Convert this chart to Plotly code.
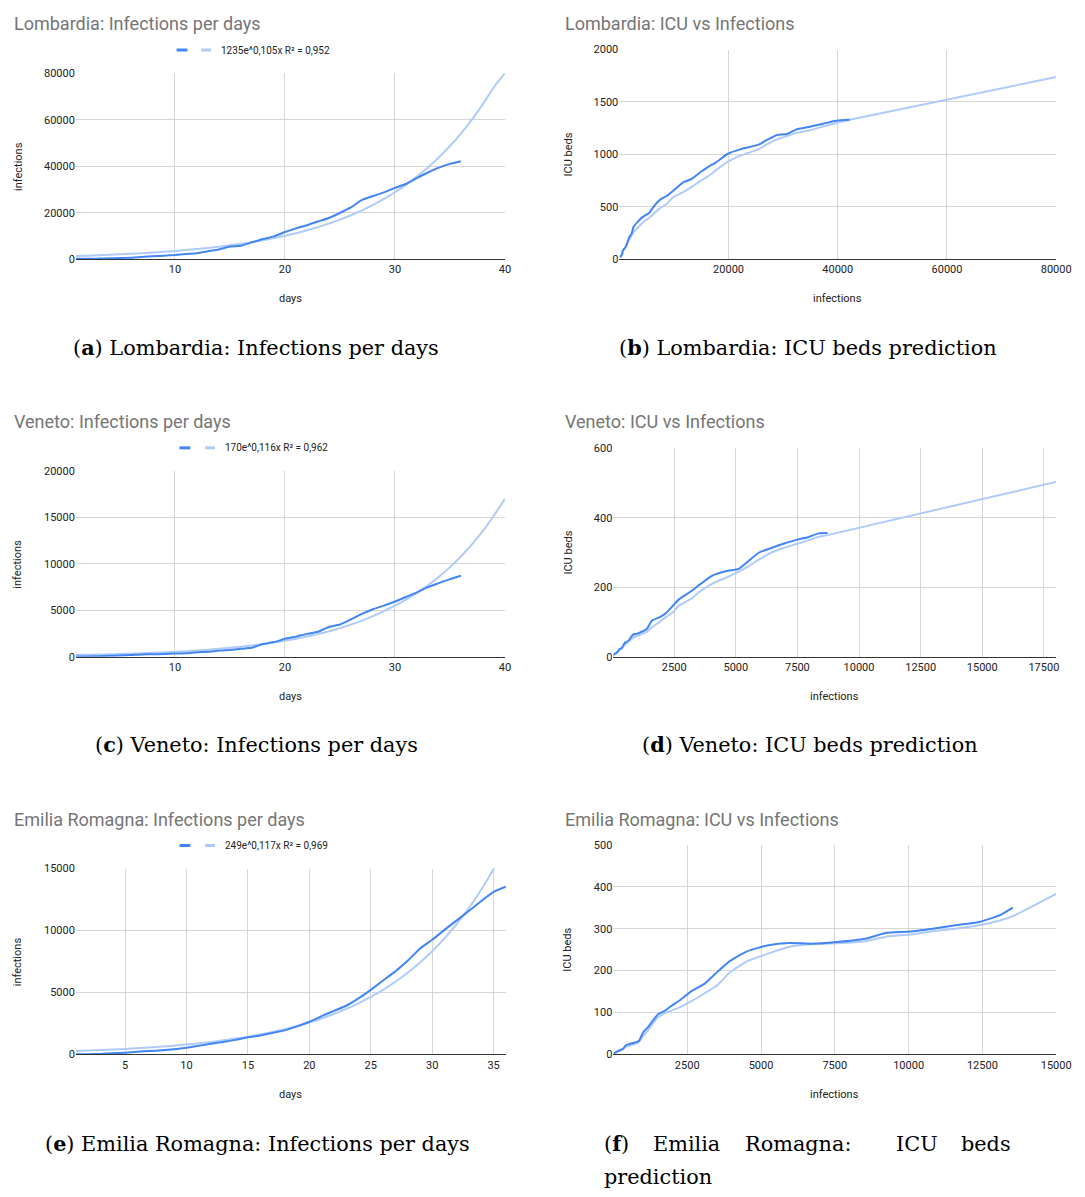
import plotly.graph_objects as go

# ---------------- data ----------------
days = list(range(1, 37))
trend_days = list(range(1, 41))
trend_days_er = list(range(1, 37))

lom_infections = [172, 240, 258, 403, 531, 615, 984, 1254, 1520, 1820, 2251, 2612, 3420, 4189, 5469, 5791,
                  7280, 8725, 9820, 11685, 13272, 14649, 16220, 17713, 19884, 22264, 25515, 27206, 28761,
                  30703, 32346, 34889, 37298, 39415, 41007, 42161]
lom_trend = [1372, 1523, 1692, 1879, 2087, 2318, 2575, 2860, 3176, 3528, 3918, 4352, 4834, 5369, 5963, 6623,
             7356, 8171, 9075, 10080, 11196, 12435, 13812, 15341, 17039, 18925, 21020, 23347, 25932, 28802,
             31991, 35532, 39466, 43835, 48687, 54077, 60064, 66713, 74098, 80000]
lom_icu = [19, 25, 25, 41, 47, 80, 106, 127, 167, 209, 244, 309, 359, 399, 440, 466, 560, 605, 650, 732, 767,
           823, 879, 924, 1006, 1050, 1093, 1142, 1183, 1194, 1236, 1263, 1292, 1319, 1328, 1330]
lom_pred_x = lom_infections + [80000]
lom_pred_icu = [15, 22, 24, 38, 55, 70, 100, 122, 155, 190, 225, 260, 300, 345, 395, 410, 480, 530, 590, 640,
                690, 740, 790, 850, 930, 990, 1050, 1100, 1140, 1175, 1205, 1230, 1265, 1295, 1315, 1330, 1738]
lom_label = "1235e^0,105x R² = 0,952"

ven_infections = [33, 43, 71, 111, 151, 191, 263, 273, 307, 360, 380, 488, 543, 670, 744, 861, 977, 1384, 1595,
                  1937, 2172, 2473, 2704, 3214, 3484, 4031, 4617, 5122, 5505, 5948, 6442, 6935, 7497, 7930,
                  8358, 8724]
ven_trend = [191, 214, 241, 270, 304, 341, 383, 430, 483, 543, 609, 684, 769, 863, 969, 1089, 1223, 1373, 1542,
             1732, 1945, 2184, 2453, 2754, 3093, 3474, 3901, 4381, 4920, 5500, 6150, 6880, 7700, 8620, 9650,
             10800, 12100, 13550, 15200, 17000]
ven_icu = [4, 6, 8, 10, 11, 14, 20, 22, 23, 25, 26, 40, 42, 48, 57, 65, 66, 80, 104, 115, 126, 149, 166, 190,
           205, 233, 247, 253, 275, 300, 313, 325, 337, 344, 355, 356]
ven_pred_x = ven_infections + [18000]
ven_pred_icu = [3, 5, 7, 9, 10, 13, 17, 19, 21, 23, 24, 34, 38, 45, 50, 56, 60, 72, 85, 102, 115, 130, 148, 168,
                185, 210, 228, 245, 260, 280, 300, 313, 325, 335, 345, 350, 503]
ven_label = "170e^0,116x R² = 0,962"

er_infections = [18, 26, 47, 97, 145, 217, 285, 335, 420, 544, 698, 870, 1010, 1180, 1386, 1530, 1739, 1947,
                 2263, 2644, 3093, 3522, 3931, 4525, 5214, 5968, 6705, 7555, 8535, 9254, 10054, 10816, 11588,
                 12383, 13119, 13531]
er_trend = [280, 315, 354, 398, 447, 503, 565, 635, 714, 803, 902, 1014, 1140, 1282, 1441, 1620, 1821, 2047,
            2301, 2586, 2907, 3268, 3673, 4129, 4642, 5218, 5865, 6593, 7412, 8331, 9365, 10528, 11834, 13303,
            14954, 16810]
er_icu = [2, 3, 4, 6, 8, 10, 12, 14, 22, 25, 28, 33, 53, 66, 85, 97, 104, 115, 130, 151, 169, 197, 222, 246,
          260, 266, 264, 268, 276, 290, 293, 300, 308, 316, 333, 350]
er_pred_x = er_infections + [15000]
er_pred_icu = [1, 2, 3, 5, 7, 9, 11, 13, 18, 21, 24, 30, 45, 58, 78, 90, 98, 104, 113, 127, 146, 165, 195, 222,
               240, 257, 263, 265, 270, 281, 286, 294, 300, 308, 320, 330, 383]
er_label = "249e^0,117x R² = 0,969"

# ---------------- layout helpers ----------------
W, H = 1085, 1197
def fx(x):
    return x / W
def fy(y):
    return 1 - y / H

DARK = "#4285f4"
LIGHT = "#aecbfa"
GRID = "#d6d6d6"
FONT = "Roboto, Arial, sans-serif"
SERIF = "DejaVu Serif, Liberation Serif, serif"
CAP_SIZE = 20.8

fig = go.Figure()

panels = [
    dict(title="Lombardia: Infections per days", box=(77, 512, 68, 256), xr=[1, 40], xt=[10, 20, 30, 40],
         yr=[0, 80000], yt=[0, 20000, 40000, 60000, 80000], xlab="days", ylab="infections",
         dark=(days, lom_infections), light=(trend_days, lom_trend), legend=lom_label, tx=12, ty=18,
         leg=(179, 190, 204, 214, 222, 44.5),
         caption=("a", "Lombardia: Infections per days"), cap=(260, 345), left=True),
    dict(title="Lombardia: ICU vs Infections", box=(628, 1071, 44, 256), xr=[0, 80000],
         xt=[20000, 40000, 60000, 80000], yr=[0, 2000], yt=[0, 500, 1000, 1500, 2000], xlab="infections",
         ylab="ICU beds", dark=(lom_infections, lom_icu), light=(lom_pred_x, lom_pred_icu), legend=None,
         tx=571, ty=18, leg=None, caption=("b", "Lombardia: ICU beds prediction"), cap=(819, 345), left=False),
    dict(title="Veneto: Infections per days", box=(77, 512, 470, 658), xr=[1, 40], xt=[10, 20, 30, 40],
         yr=[0, 20000], yt=[0, 5000, 10000, 15000, 20000], xlab="days", ylab="infections",
         dark=(days, ven_infections), light=(trend_days, ven_trend), legend=ven_label, tx=12, ty=420,
         leg=(182, 193, 208, 218, 226, 446.7),
         caption=("c", "Veneto: Infections per days"), cap=(260, 747), left=True),
    dict(title="Veneto: ICU vs Infections", box=(622, 1071, 447, 658), xr=[33, 18000],
         xt=[2500, 5000, 7500, 10000, 12500, 15000, 17500], yr=[0, 600], yt=[0, 200, 400, 600],
         xlab="infections", ylab="ICU beds", dark=(ven_infections, ven_icu), light=(ven_pred_x, ven_pred_icu),
         legend=None, tx=571, ty=420, leg=None, caption=("d", "Veneto: ICU beds prediction"), cap=(821, 747),
         left=False),
    dict(title="Emilia Romagna: Infections per days", box=(77, 513, 872, 1060), xr=[1, 36],
         xt=[5, 10, 15, 20, 25, 30, 35], yr=[0, 15000], yt=[0, 5000, 10000, 15000], xlab="days",
         ylab="infections", dark=(days, er_infections), light=(trend_days_er, er_trend), legend=er_label,
         tx=12, ty=822, leg=(182, 193, 208, 218, 226, 848.7),
         caption=("e", "Emilia Romagna: Infections per days"), cap=(261, 1150), left=True),
    dict(title="Emilia Romagna: ICU vs Infections", box=(622, 1071, 848, 1060), xr=[0, 15000],
         xt=[2500, 5000, 7500, 10000, 12500, 15000], yr=[0, 500], yt=[0, 100, 200, 300, 400, 500],
         xlab="infections", ylab="ICU beds", dark=(er_infections, er_icu), light=(er_pred_x, er_pred_icu),
         legend=None, tx=571, ty=822, leg=None, caption=None, cap=None, left=False),
]

annotations = []
shapes = []
layout_axes = {}

for i, p in enumerate(panels):
    n = "" if i == 0 else str(i + 1)
    x0, x1, y0, y1 = p["box"]
    layout_axes["xaxis" + n] = dict(
        domain=[fx(x0), fx(x1)], anchor="y" + n, range=p["xr"], tickvals=p["xt"],
        ticktext=[str(v) for v in p["xt"]],
        showgrid=True, gridcolor=GRID, gridwidth=1, zeroline=False, showline=True,
        linecolor="#333333", linewidth=1, ticks="", tickfont=dict(family=FONT, size=11, color="#222222"),
        fixedrange=True)
    layout_axes["yaxis" + n] = dict(
        domain=[fy(y1), fy(y0)], anchor="x" + n, range=p["yr"], tickvals=p["yt"],
        ticktext=[str(v) for v in p["yt"]],
        showgrid=True, gridcolor=GRID, gridwidth=1, zeroline=False, showline=False, ticks="",
        tickfont=dict(family=FONT, size=11, color="#222222"), fixedrange=True)

    lx, ly = p["light"]
    dx, dy = p["dark"]
    fig.add_trace(go.Scatter(x=lx, y=ly, mode="lines", line=dict(color=LIGHT, width=2, shape="spline",
                             smoothing=0.5), xaxis="x" + n, yaxis="y" + n, showlegend=False,
                             hoverinfo="skip"))
    fig.add_trace(go.Scatter(x=dx, y=dy, mode="lines", line=dict(color=DARK, width=2, shape="spline",
                             smoothing=0.5), xaxis="x" + n, yaxis="y" + n, showlegend=False))

    # chart title
    annotations.append(dict(text=p["title"], x=fx(p["tx"]), y=fy(p["ty"]), xref="paper", yref="paper",
                            xanchor="left", yanchor="middle", showarrow=False,
                            font=dict(family=FONT, size=18, color="#757575")))
    # axis titles
    annotations.append(dict(text=p["xlab"], x=fx((x0 + x1) / 2), y=fy(y1 + 40), xref="paper", yref="paper",
                            xanchor="center", yanchor="middle", showarrow=False,
                            font=dict(family=FONT, size=11, color="#222222")))
    ylx = 18 if p["left"] else 576
    annotations.append(dict(text=p["ylab"], x=fx(ylx), y=fy((y0 + y1) / 2), xref="paper", yref="paper",
                            xanchor="center", yanchor="middle", showarrow=False, textangle=-90,
                            font=dict(family=FONT, size=11, color="#222222")))
    # legend (drawn manually, google-sheets style)
    if p["legend"]:
        d0, d1, l0, l1, tx, ly_px = p["leg"]
        shapes.append(dict(type="line", xref="paper", yref="paper", x0=fx(d0), x1=fx(d1),
                           y0=fy(ly_px), y1=fy(ly_px), line=dict(color=DARK, width=3)))
        shapes.append(dict(type="line", xref="paper", yref="paper", x0=fx(l0), x1=fx(l1),
                           y0=fy(ly_px), y1=fy(ly_px), line=dict(color=LIGHT, width=3)))
        annotations.append(dict(text=p["legend"], x=fx(tx), y=fy(ly_px), xref="paper", yref="paper",
                                xanchor="left", yanchor="middle", showarrow=False,
                                font=dict(family=FONT, size=10, color="#222222")))
    # caption
    if p["caption"]:
        letter, txt = p["caption"]
        cx, cy = p["cap"]
        annotations.append(dict(text="(<b>%s</b>) %s" % (letter, txt), x=fx(cx), y=fy(cy), xref="paper",
                                yref="paper", xanchor="center", yanchor="middle", showarrow=False,
                                font=dict(family=SERIF, size=CAP_SIZE, color="#000000")))

# caption (f) - justified over two lines
f_words = [("(<b>f</b>)", 610, "left"), ("Emilia", 660, "left"), ("Romagna:", 753, "left"),
           ("ICU", 907, "left"), ("beds", 1027, "right")]
for w, xpos, anc in f_words:
    annotations.append(dict(text=w, x=fx(xpos), y=fy(1150), xref="paper", yref="paper", xanchor=anc,
                            yanchor="middle", showarrow=False,
                            font=dict(family=SERIF, size=CAP_SIZE, color="#000000")))
annotations.append(dict(text="prediction", x=fx(610), y=fy(1184), xref="paper", yref="paper", xanchor="left",
                        yanchor="middle", showarrow=False, font=dict(family=SERIF, size=CAP_SIZE, color="#000000")))

fig.update_layout(width=W, height=H, margin=dict(l=0, r=0, t=0, b=0), paper_bgcolor="white",
                  plot_bgcolor="white", showlegend=False, annotations=annotations, shapes=shapes,
                  **layout_axes)

fig.write_html("out.html", config={"displayModeBar": False},
               post_script="document.body.style.margin='0px';document.body.style.overflow='hidden';")
